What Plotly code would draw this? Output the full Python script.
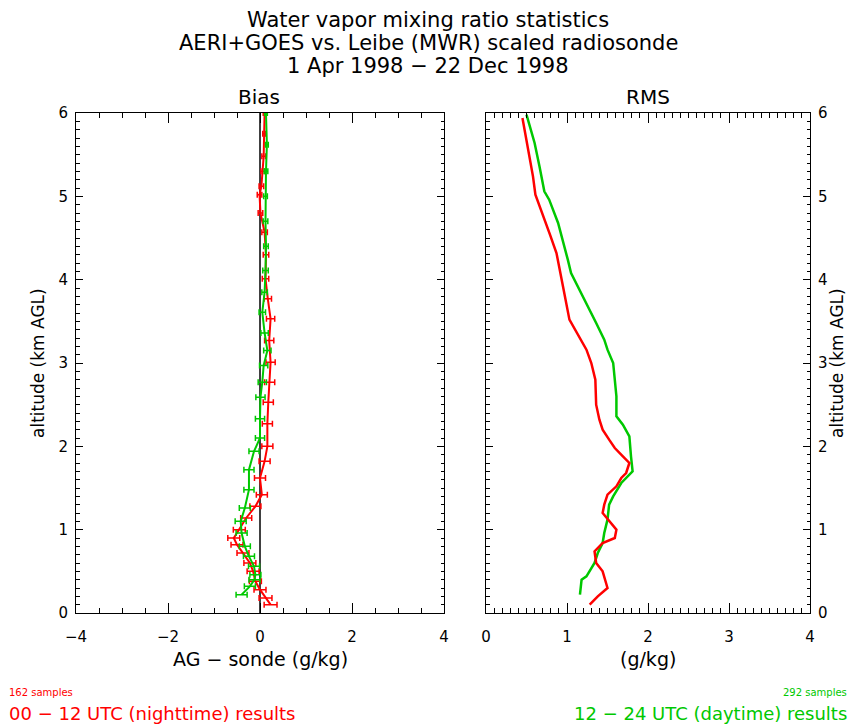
import plotly.graph_objects as go

# ---------------- data ----------------
# Bias (AG - sonde), nighttime (00-12 UTC)
night_bias_alt = [0.10, 0.18, 0.28, 0.38, 0.50, 0.60, 0.72, 0.82, 0.90, 1.00, 1.14, 1.28, 1.42,
                  1.62, 1.82, 2.00, 2.27, 2.53, 2.77, 3.01, 3.27, 3.53, 3.77, 4.01, 4.30, 4.57,
                  4.80, 5.02, 5.12, 5.30, 5.48, 5.75, 6.00]
night_bias = [0.23, 0.12, 0.00, -0.10, -0.15, -0.22, -0.37, -0.50, -0.57, -0.45, -0.30, -0.10, 0.04,
              0.00, 0.10, 0.16, 0.16, 0.18, 0.21, 0.23, 0.20, 0.23, 0.17, 0.12, 0.13, 0.10,
              0.01, -0.01, 0.03, 0.06, 0.08, 0.09, 0.10]
night_bias_err = [0.14, 0.14, 0.13, 0.13, 0.13, 0.13, 0.13, 0.13, 0.13, 0.13, 0.12, 0.12, 0.12,
                  0.12, 0.12, 0.12, 0.11, 0.11, 0.11, 0.10, 0.10, 0.09, 0.08, 0.07, 0.06, 0.06,
                  0.05, 0.05, 0.05, 0.04, 0.04, 0.03, 0.03]

# Bias, daytime (12-24 UTC)
day_bias_alt = [0.22, 0.32, 0.40, 0.46, 0.56, 0.68, 0.80, 0.96, 1.10, 1.26, 1.48, 1.72, 1.94,
                2.10, 2.33, 2.59, 2.77, 2.97, 3.15, 3.36, 3.61, 3.85, 4.11, 4.40, 4.70, 5.00,
                5.30, 5.62, 6.00]
day_bias = [-0.40, -0.22, -0.12, -0.10, -0.13, -0.24, -0.33, -0.40, -0.42, -0.33, -0.24, -0.24, -0.13,
            0.00, 0.00, 0.01, 0.05, 0.08, 0.16, 0.10, 0.05, 0.10, 0.12, 0.13, 0.12, 0.12,
            0.13, 0.15, 0.13]
day_bias_err = [0.12, 0.12, 0.12, 0.12, 0.12, 0.12, 0.12, 0.12, 0.12, 0.12, 0.11, 0.11, 0.11,
                0.10, 0.10, 0.10, 0.09, 0.09, 0.08, 0.08, 0.07, 0.06, 0.06, 0.05, 0.05, 0.04,
                0.04, 0.03, 0.03]

# RMS
night_rms_alt = [0.10, 0.20, 0.30, 0.50, 0.60, 0.74, 0.84, 0.90, 1.00, 1.10, 1.20, 1.30, 1.42,
                 1.52, 1.62, 1.68, 1.80, 1.88, 1.98, 2.08, 2.20, 2.32, 2.50, 2.80, 3.00, 3.16,
                 3.32, 3.52, 3.92, 4.32, 4.54, 4.84, 5.02, 5.24, 5.56, 5.94]
night_rms = [1.28, 1.38, 1.50, 1.44, 1.36, 1.34, 1.44, 1.59, 1.61, 1.52, 1.44, 1.46, 1.50,
             1.61, 1.67, 1.73, 1.77, 1.69, 1.59, 1.52, 1.44, 1.40, 1.36, 1.35, 1.30, 1.24,
             1.15, 1.03, 0.95, 0.87, 0.79, 0.68, 0.61, 0.58, 0.52, 0.45]

day_rms_alt = [0.22, 0.40, 0.44, 0.60, 0.72, 0.84, 0.96, 1.12, 1.30, 1.40, 1.56, 1.62, 1.70,
               1.88, 2.12, 2.26, 2.36, 2.60, 2.80, 3.00, 3.16, 3.28, 3.48, 3.72, 3.92, 4.08,
               4.24, 4.68, 4.96, 5.06, 5.36, 5.64, 5.98]
day_rms = [1.16, 1.18, 1.24, 1.34, 1.38, 1.44, 1.46, 1.50, 1.52, 1.57, 1.67, 1.73, 1.81,
           1.79, 1.77, 1.69, 1.61, 1.61, 1.59, 1.57, 1.50, 1.46, 1.36, 1.24, 1.13, 1.05,
           1.01, 0.89, 0.78, 0.72, 0.66, 0.60, 0.50]

bias_ticks = [-4, -2, 0, 2, 4]
rms_ticks = [0, 1, 2, 3, 4]
alt_ticks = [0, 1, 2, 3, 4, 5, 6]
night_samples = 162
day_samples = 292

RED = "#ff0000"
GREEN = "#00c800"
FONT = "DejaVu Sans"

W, H = 852, 724


def fx(px):
    return px / W


def fy(py):
    return 1 - py / H


fig = go.Figure()

# zero line in bias panel
fig.add_shape(type="line", xref="x", yref="y", x0=0, x1=0, y0=alt_ticks[0], y1=alt_ticks[-1],
              line=dict(color="black", width=1.5), layer="below")

err_style = dict(type="data", thickness=1.5, width=3)

fig.add_trace(go.Scatter(x=night_bias, y=night_bias_alt, mode="lines", xaxis="x", yaxis="y",
                         line=dict(color=RED, width=2),
                         error_x=dict(array=night_bias_err, color=RED, **err_style),
                         showlegend=False))
fig.add_trace(go.Scatter(x=day_bias, y=day_bias_alt, mode="lines", xaxis="x", yaxis="y",
                         line=dict(color=GREEN, width=2),
                         error_x=dict(array=day_bias_err, color=GREEN, **err_style),
                         showlegend=False))
fig.add_trace(go.Scatter(x=day_rms, y=day_rms_alt, mode="lines", xaxis="x2", yaxis="y2",
                         line=dict(color=GREEN, width=2.5), showlegend=False))
fig.add_trace(go.Scatter(x=night_rms, y=night_rms_alt, mode="lines", xaxis="x2", yaxis="y2",
                         line=dict(color=RED, width=2.5), showlegend=False))

tickfont = dict(family=FONT, size=15, color="black")
common = dict(showgrid=False, zeroline=False, showline=True, linecolor="black", linewidth=1,
              mirror="ticks", ticks="inside", tickcolor="black", tickfont=tickfont)

y_top = fy(113)
y_bot = fy(613)

fig.update_layout(
    width=W, height=H,
    margin=dict(l=0, r=0, t=0, b=0, autoexpand=False),
    paper_bgcolor="white", plot_bgcolor="white",
    xaxis=dict(domain=[fx(76), fx(444)], range=[-4, 4], tickvals=bias_ticks,
               ticktext=[str(v).replace("-", "\u2212") for v in bias_ticks],
               ticklen=10, tickwidth=1, ticklabelstandoff=10,
               minor=dict(dtick=0.5, ticks="inside", ticklen=5, tickcolor="black"),
               anchor="y", **common),
    yaxis=dict(domain=[y_bot, y_top], range=[0, 6], tickvals=alt_ticks, ticklen=7,
               ticklabelstandoff=4,
               minor=dict(dtick=0.1, ticks="inside", ticklen=3.5, tickcolor="black"),
               anchor="x", **common),
    xaxis2=dict(domain=[fx(486), fx(810)], range=[0, 4], tickvals=rms_ticks, ticklen=10,
                ticklabelstandoff=10,
                minor=dict(dtick=0.1, ticks="inside", ticklen=5, tickcolor="black"),
                anchor="y2", **common),
    yaxis2=dict(domain=[y_bot, y_top], range=[0, 6], tickvals=alt_ticks, ticklen=7,
                side="right", ticklabelstandoff=4,
                minor=dict(dtick=0.1, ticks="inside", ticklen=3.5, tickcolor="black"),
                anchor="x2", **common),
)

ann = []


def txt(x, y, s, size, color="black", xanchor="center", angle=0):
    ann.append(dict(x=fx(x), y=fy(y), xref="paper", yref="paper", text=s, showarrow=False,
                    font=dict(family=FONT, size=size, color=color), xanchor=xanchor,
                    yanchor="middle", textangle=angle))


txt(428, 20, "Water vapor mixing ratio statistics", 21)
txt(428, 43, "AERI+GOES vs. Leibe (MWR) scaled radiosonde", 21)
txt(428, 66, "1 Apr 1998 \u2212 22 Dec 1998", 21)
txt(259, 97, "Bias", 20)
txt(648, 97, "RMS", 20)
txt(260, 659, "AG \u2212 sonde (g/kg)", 19)
txt(648, 659, "(g/kg)", 19)
txt(38, 363, "altitude (km AGL)", 17, angle=-90)
txt(837, 363, "altitude (km AGL)", 17, angle=-90)
txt(7, 692, f"{night_samples} samples", 10, RED, xanchor="left")
txt(7, 713, "00 \u2212 12 UTC (nighttime) results", 18, RED, xanchor="left")
txt(849, 692, f"{day_samples} samples", 10, GREEN, xanchor="right")
txt(849, 713, "12 \u2212 24 UTC (daytime) results", 18, GREEN, xanchor="right")
fig.update_layout(annotations=ann)

# remove the default 8px page margin so the 852x724 figure fills the window exactly
fig.write_html("out.html", config={"displayModeBar": False},
               post_script="document.body.style.margin='0';document.body.style.overflow='hidden';")
